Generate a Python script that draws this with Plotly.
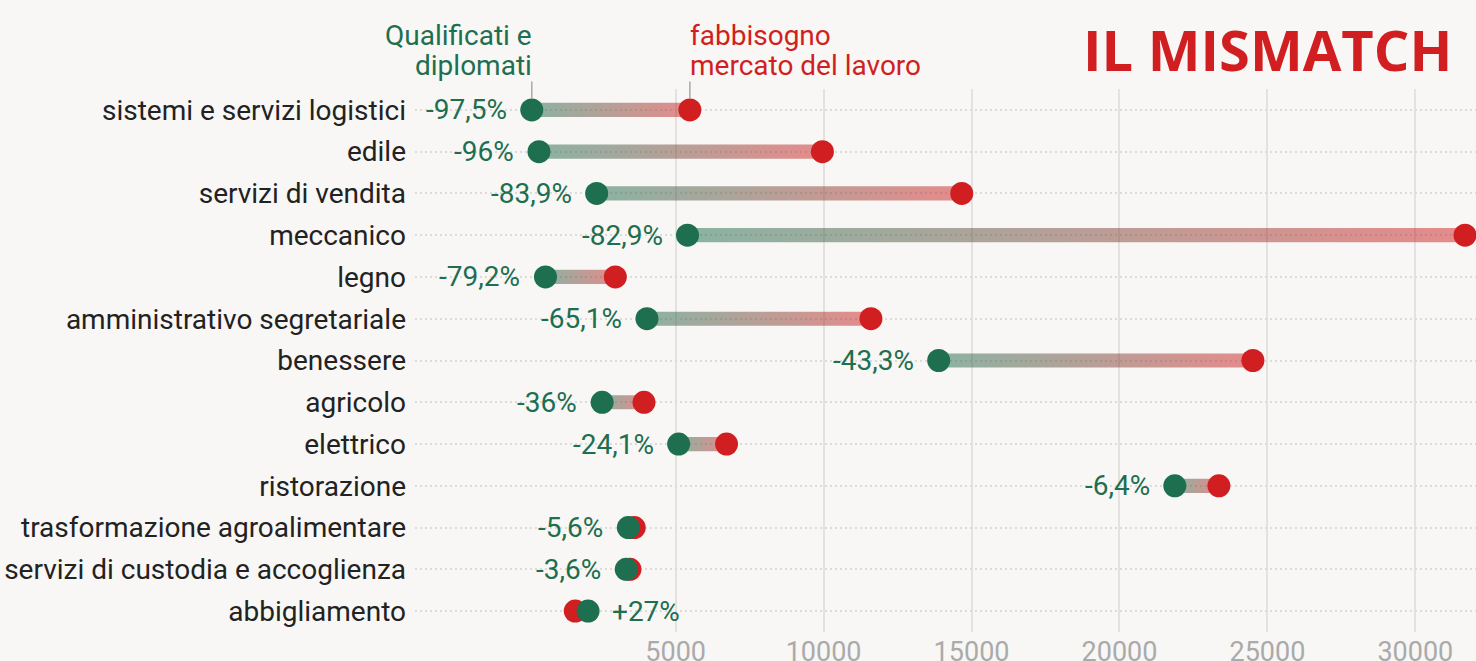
import plotly.graph_objects as go

categories = ["sistemi e servizi logistici", "edile", "servizi di vendita", "meccanico",
              "legno", "amministrativo segretariale", "benessere", "agricolo", "elettrico",
              "ristorazione", "trasformazione agroalimentare",
              "servizi di custodia e accoglienza", "abbigliamento"]
fabbisogno = [5480, 9960, 14670, 31680, 2960, 11600, 24510, 3930, 6720, 23360, 3600, 3455, 1606]
qualificati = [137, 380, 2330, 5400, 600, 4030, 13890, 2515, 5100, 21870, 3400, 3330, 2040]
pct_labels = ["-97,5%", "-96%", "-83,9%", "-82,9%", "-79,2%", "-65,1%", "-43,3%", "-36%",
              "-24,1%", "-6,4%", "-5,6%", "-3,6%", "+27%"]
x_ticks = [5000, 10000, 15000, 20000, 25000, 30000]
x_tick_labels = ["5000", "10000", "15000", "20000", "25000", "30000"]
green_header = ["Qualificati e", "diplomati"]
red_header = ["fabbisogno", "mercato del lavoro"]

GREEN = "#1e6e50"
RED = "#d11f21"
BG = "#f8f7f5"
FONT = "Roboto"

g_rgba = "rgba(30,110,80,0.5)"
r_rgba = "rgba(209,31,33,0.5)"

fig = go.Figure()
rows = list(range(len(categories)))
half = 0.17

for i, (q, f) in enumerate(zip(qualificati, fabbisogno)):
    lo, hi = min(q, f), max(q, f)
    cs = [[0, g_rgba], [1, r_rgba]] if q <= f else [[0, r_rgba], [1, g_rgba]]
    fig.add_trace(go.Scatter(
        x=[lo, hi, hi, lo, lo], y=[i - half, i - half, i + half, i + half, i - half],
        mode="lines", fill="toself", line=dict(width=0, color="rgba(0,0,0,0)"),
        fillgradient=dict(type="horizontal", colorscale=cs),
        hoverinfo="skip", showlegend=False))

fig.add_trace(go.Scatter(x=fabbisogno, y=rows, mode="markers",
                         marker=dict(size=23, color=RED), showlegend=False))
fig.add_trace(go.Scatter(x=qualificati, y=rows, mode="markers",
                         marker=dict(size=23, color=GREEN), showlegend=False))

annotations = []
for i, (q, f, lab) in enumerate(zip(qualificati, fabbisogno, pct_labels)):
    right = q > f
    annotations.append(dict(
        x=q, y=i, xref="x", yref="y", text=lab, showarrow=False,
        xanchor="left" if right else "right", xshift=22 if right else -23,
        font=dict(family=FONT, size=28, color=GREEN)))

# header labels (one annotation per line) with leader lines
line_shifts = [35, 5]
for txt, ys in zip(green_header, line_shifts):
    annotations.append(dict(x=qualificati[0], y=1, xref="x", yref="paper", text=txt,
                            showarrow=False, xanchor="right", yanchor="bottom",
                            yshift=ys, xshift=2,
                            font=dict(family=FONT, size=28, color=GREEN)))
for txt, ys in zip(red_header, line_shifts):
    annotations.append(dict(x=fabbisogno[0], y=1, xref="x", yref="paper", text=txt,
                            showarrow=False, xanchor="left", yanchor="bottom",
                            yshift=ys, xshift=-2,
                            font=dict(family=FONT, size=28, color=RED)))
for xv in (qualificati[0], fabbisogno[0]):
    annotations.append(dict(x=xv, y=0, xref="x", yref="y", text="", showarrow=True,
                            ax=0, ay=-30, arrowhead=0, arrowwidth=1.5,
                            arrowcolor="#aaaaaa", standoff=11))

annotations.append(dict(x=1, y=1, xref="paper", yref="paper", text="<b>IL MISMATCH</b>",
                        showarrow=False, xanchor="right", yanchor="middle",
                        xshift=-22, yshift=40,
                        font=dict(family="Open Sans", size=56, color=RED)))

fig.update_layout(
    width=1476, height=661,
    paper_bgcolor=BG, plot_bgcolor=BG,
    margin=dict(l=415, r=0, t=89, b=29),
    annotations=annotations,
    xaxis=dict(range=[-3810, 32050], tickvals=x_ticks, ticktext=x_tick_labels, showgrid=True,
               gridcolor="#e3e2e0", gridwidth=2, zeroline=False, showline=False,
               automargin=False, ticklabelstandoff=1,
               tickfont=dict(family=FONT, size=27, color="#aaaaaa")),
    yaxis=dict(range=[12.5, -0.5], tickvals=rows, ticktext=categories, showgrid=True,
               gridcolor="#dcdbd9", griddash="2px,3px", gridwidth=1.5, zeroline=False,
               ticklabelstandoff=8, automargin=False,
               tickfont=dict(family=FONT, size=28, color="#222222")),
)

fig.write_html("out.html", config={"displayModeBar": False},
               post_script="document.body.style.margin='0';document.body.style.overflow='hidden';")
